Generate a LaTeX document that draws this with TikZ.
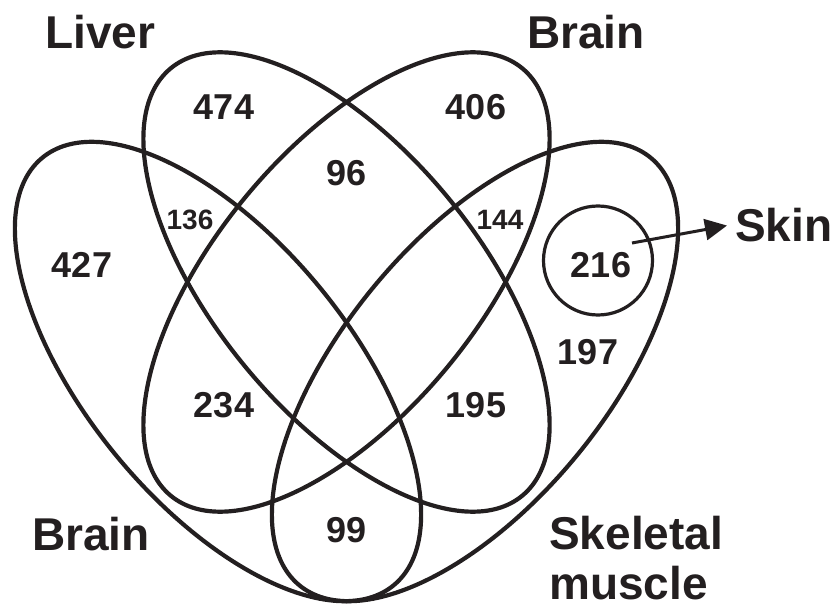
\documentclass[tikz,border=0pt]{standalone}
\usepackage{fontspec}
\setmainfont{Liberation Sans}
\usetikzlibrary{arrows.meta}
\definecolor{ink}{RGB}{35,31,32}
\begin{document}
\begin{tikzpicture}[x=1pt,y=1pt,
  venn/.style={draw=ink, line width=4.2pt},
  lbl/.style={anchor=base west, inner sep=0pt, text=ink, font=\fontsize{46}{52}\selectfont\bfseries},
  num/.style={inner sep=0pt, text=ink, font=\fontsize{36}{40}\selectfont\bfseries},
  snum/.style={inner sep=0pt, text=ink, font=\fontsize{28}{32}\selectfont\bfseries},
  ring/.style={draw=ink, line width=3.2pt, circle, minimum size=109pt, inner sep=0pt},
  pointer/.style={draw=ink, line width=3pt, -{Triangle[length=22pt,width=21pt]}}]
\useasboundingbox (0,0) rectangle (835,606);
% four congruent ellipses
\draw[venn, rotate around={-50.6:(218,234.5)}] (218,234.5) ellipse (276.7 and 132);
\draw[venn, rotate around={-50.6:(346.5,324)}] (346.5,324) ellipse (276.7 and 132);
\draw[venn, rotate around={50.6:(346.5,324)}] (346.5,324) ellipse (276.7 and 132);
\draw[venn, rotate around={50.6:(475,234.5)}] (475,234.5) ellipse (276.7 and 132);
% skin circle
\node[ring] (skinring) at (598,345.5) {};
% labels
\node[lbl] (liver) at (45,557) {Liver};
\node[lbl] (braintop) at (527,557) {Brain};
\node[lbl] (brainbot) at (32,56) {Brain};
\node[lbl] (skel1) at (549,57) {Skeletal};
\node[lbl] (skel2) at (549,7) {muscle};
\node[lbl] (skin) at (735,364) {Skin};
% numbers
\node[num] (n474) at (224,499) {474};
\node[num] (n406) at (476,499) {406};
\node[num] (n96) at (347,433) {96};
\node[snum] (n136) at (190,386) {136};
\node[snum] (n144) at (500,386) {144};
\node[num] (n427) at (82,341) {427};
\node[num] (n216) at (601,341) {216};
\node[num] (n197) at (588,254) {197};
\node[num] (n234) at (224,201) {234};
\node[num] (n195) at (476,201) {195};
\node[num] (n99) at (347,76) {99};
% arrow
\coordinate (arrstart) at (632,363);
\draw[pointer] (arrstart) -- ([xshift=-8pt]skin.west);
\end{tikzpicture}
\end{document}
